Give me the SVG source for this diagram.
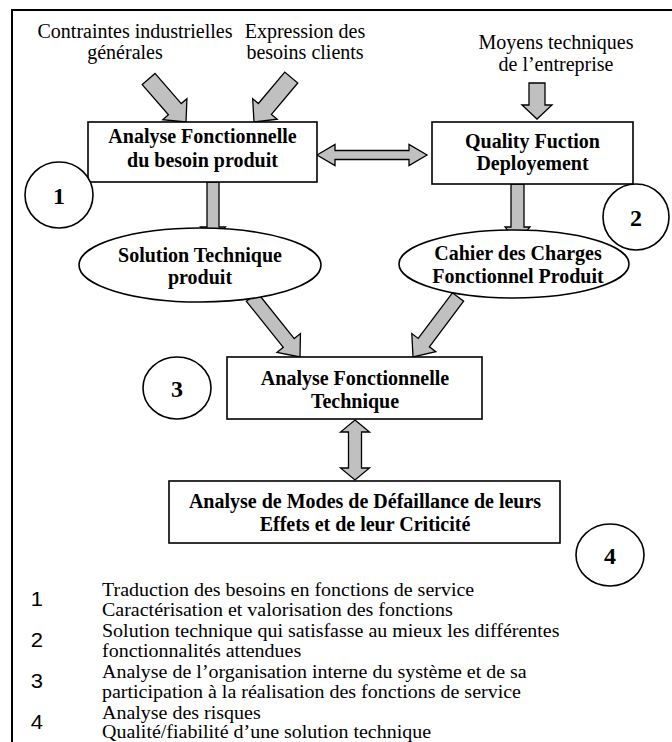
<svg xmlns="http://www.w3.org/2000/svg" width="672" height="742" viewBox="0 0 672 742">
  <style>
    .frame { fill: none; stroke: #000; stroke-width: 2; }
    .node { fill: #fff; stroke: #000; stroke-width: 1.6; }
    .arrow { fill: #c0c0c0; stroke: #000; stroke-width: 1.3; stroke-linejoin: miter; }
    .lbl { font-family: "Liberation Serif", "Times New Roman", serif; font-size: 20px; fill: #000; }
    .bold { font-family: "Liberation Serif", "Times New Roman", serif; font-size: 20px; font-weight: bold; fill: #000; text-anchor: middle; }
    .num { font-family: "Liberation Serif", "Times New Roman", serif; font-size: 24px; font-weight: bold; fill: #000; text-anchor: middle; }
    .mid { text-anchor: middle; }
    .legnum { font-family: "Liberation Sans Narrow", "Arial Narrow", "Liberation Sans", sans-serif; font-stretch: condensed; font-size: 22px; fill: #000; text-anchor: middle; }
  </style>

  <!-- page frame (top and left rules) -->
  <path class="frame" d="M12,742 V10 H672"/>

  <!-- input labels -->
  <g id="inputs">
    <text class="lbl mid" x="135" y="38">Contraintes industrielles</text>
    <text class="lbl mid" x="125" y="59">générales</text>
    <text class="lbl mid" x="305" y="38">Expression des</text>
    <text class="lbl mid" x="305" y="59">besoins clients</text>
    <text class="lbl mid" x="556" y="49">Moyens techniques</text>
    <text class="lbl mid" x="556" y="71">de l’entreprise</text>
  </g>

  <!-- connectors: block arrows -->
  <g id="connectors">
    <!-- Contraintes -> analyse du besoin -->
    <polygon class="arrow" transform="translate(186,122) rotate(49)" points="0,0 -17,16 -17,8.5 -57,8.5 -57,-8.5 -17,-8.5 -17,-16"/>
    <!-- Expression -> analyse du besoin -->
    <polygon class="arrow" transform="translate(254,122) rotate(130)" points="0,0 -17,16 -17,8.5 -58,8.5 -58,-8.5 -17,-8.5 -17,-16"/>
    <!-- Moyens -> QFD -->
    <polygon class="arrow" points="529,83 545,83 545,105 552,105 537,119 522,105 529,105"/>
    <!-- analyse du besoin <-> QFD -->
    <polygon class="arrow" points="317,155 335,144.5 335,150.5 409,150.5 409,144.5 427,155 409,165.5 409,159.5 335,159.5 335,165.5"/>
    <!-- analyse du besoin -> solution technique -->
    <polygon class="arrow" points="207,182 219,182 219,227 225.5,227 213,242 200.5,227 207,227"/>
    <!-- QFD -> cahier des charges -->
    <polygon class="arrow" points="511,184 524,184 524,227 530,227 517.5,242 505,227 511,227"/>
    <!-- solution technique -> analyse technique -->
    <polygon class="arrow" transform="translate(300,357) rotate(51.3)" points="0,0 -18,15 -18,7 -77,7 -77,-7 -18,-7 -18,-15"/>
    <!-- cahier des charges -> analyse technique -->
    <polygon class="arrow" transform="translate(413,357) rotate(126.9)" points="0,0 -18,15 -18,7 -75,7 -75,-7 -18,-7 -18,-15"/>
    <!-- analyse technique <-> AMDEC -->
    <polygon class="arrow" points="355,420 369.5,432 361.5,432 361.5,468 369.5,468 355,480 340.5,468 348.5,468 348.5,432 340.5,432"/>
  </g>

  <g id="afb">
    <rect class="node" x="88" y="122" width="229" height="60"/>
    <text class="bold" x="202.5" y="143">Analyse Fonctionnelle</text>
    <text class="bold" x="202.5" y="167">du besoin produit</text>
  </g>

  <g id="qfd">
    <rect class="node" x="432" y="122" width="201" height="62"/>
    <text class="bold" x="532.5" y="148">Quality Fuction</text>
    <text class="bold" x="532.5" y="170">Deployement</text>
  </g>

  <g id="solution">
    <ellipse class="node" cx="200" cy="265" rx="121" ry="37"/>
    <text class="bold" x="200" y="262">Solution Technique</text>
    <text class="bold" x="200" y="284">produit</text>
  </g>

  <g id="cdcf">
    <ellipse class="node" cx="514" cy="264" rx="115" ry="34"/>
    <text class="bold" x="518" y="260">Cahier des Charges</text>
    <text class="bold" x="518" y="283">Fonctionnel Produit</text>
  </g>

  <g id="aft">
    <rect class="node" x="227" y="357" width="255" height="62"/>
    <text class="bold" x="355" y="385">Analyse Fonctionnelle</text>
    <text class="bold" x="355" y="408">Technique</text>
  </g>

  <g id="amdec">
    <rect class="node" x="169" y="481" width="391" height="62"/>
    <text class="bold" x="365" y="508">Analyse de Modes de Défaillance de leurs</text>
    <text class="bold" x="365" y="531">Effets et de leur Criticité</text>
  </g>

  <!-- step markers -->
  <g id="step1">
    <ellipse class="node" cx="59" cy="195" rx="34" ry="33"/>
    <text class="num" x="59" y="204">1</text>
  </g>
  <g id="step2">
    <ellipse class="node" cx="636" cy="217" rx="33" ry="33"/>
    <text class="num" x="636" y="226">2</text>
  </g>
  <g id="step3">
    <ellipse class="node" cx="177" cy="388" rx="34" ry="31"/>
    <text class="num" x="177" y="397">3</text>
  </g>
  <g id="step4">
    <ellipse class="node" cx="610" cy="555" rx="34" ry="31"/>
    <text class="num" x="610" y="564">4</text>
  </g>

  <!-- legend: slightly condensed vertically so eight lines fit under the chart -->
  <g id="legend" transform="translate(0,596) scale(1,0.93)">
    <text class="legnum" x="37" y="11">1</text>
    <text class="legnum" x="37" y="55">2</text>
    <text class="legnum" x="37" y="99">3</text>
    <text class="legnum" x="37" y="143">4</text>
    <text class="lbl" x="102" y="0">Traduction des besoins en fonctions de service</text>
    <text class="lbl" x="102" y="22">Caractérisation et valorisation des fonctions</text>
    <text class="lbl" x="102" y="44">Solution technique qui satisfasse au mieux les différentes</text>
    <text class="lbl" x="102" y="66">fonctionnalités attendues</text>
    <text class="lbl" x="102" y="88">Analyse de l’organisation interne du système et de sa</text>
    <text class="lbl" x="102" y="110">participation à la réalisation des fonctions de service</text>
    <text class="lbl" x="102" y="132">Analyse des risques</text>
    <text class="lbl" x="102" y="153">Qualité/fiabilité d’une solution technique</text>
  </g>
</svg>
